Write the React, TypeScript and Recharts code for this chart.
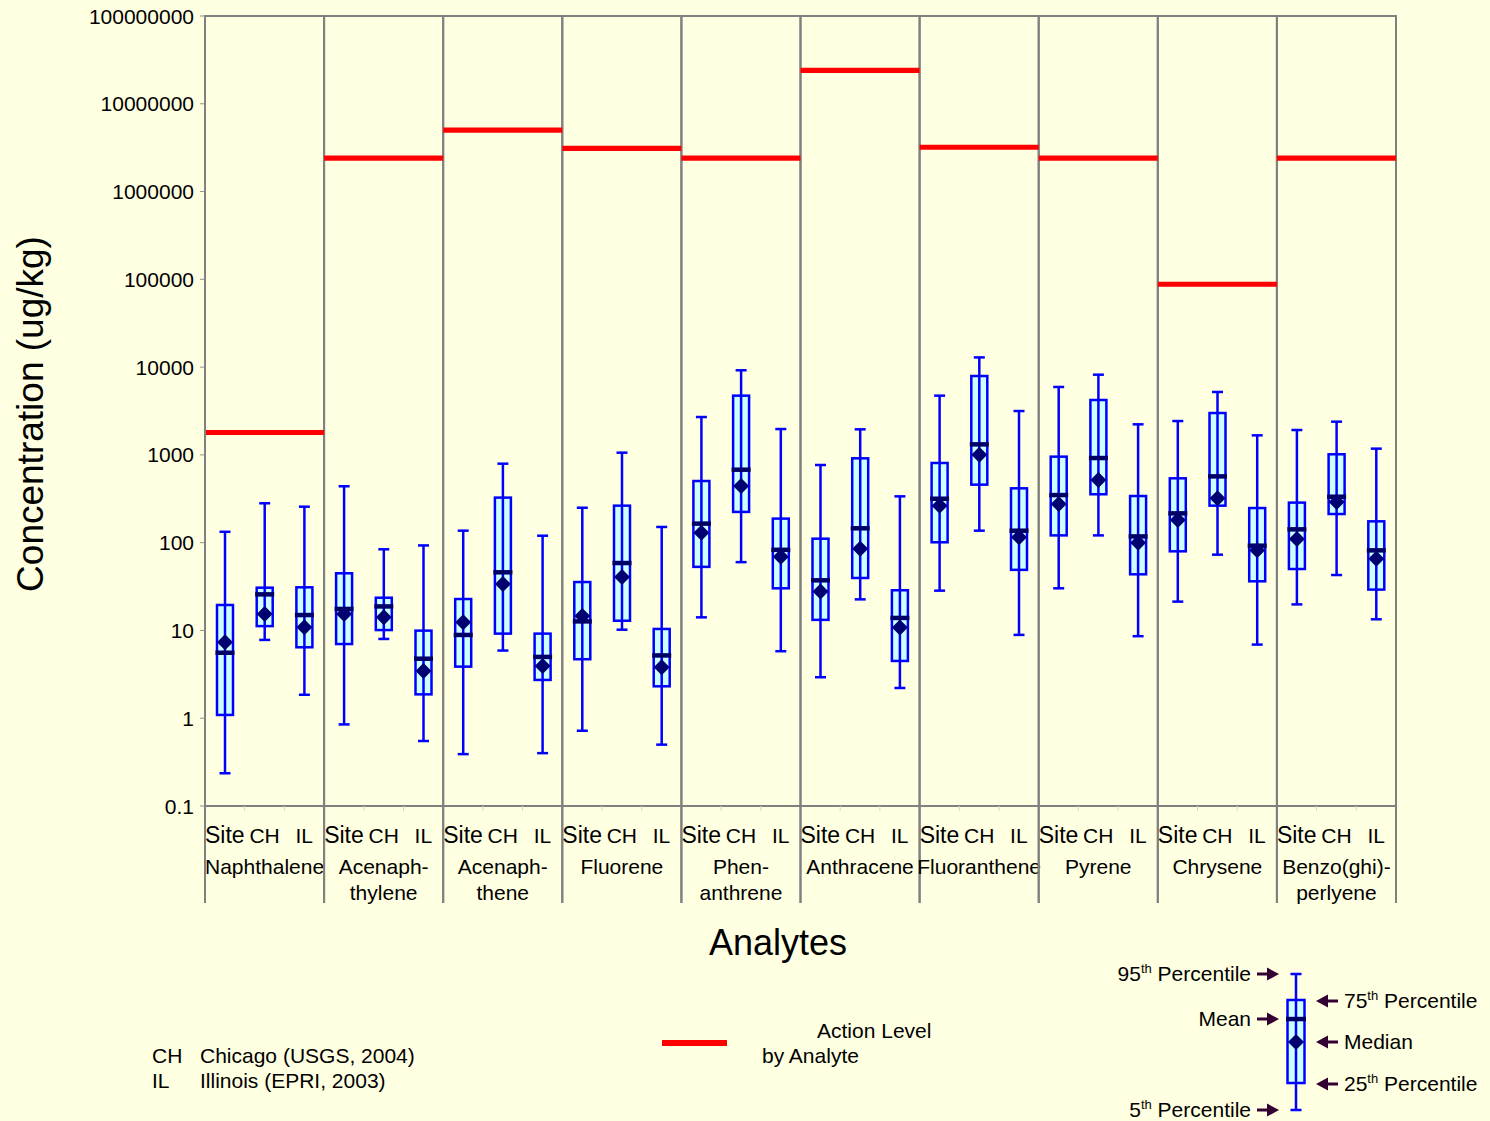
import React from "react";
import { ComposedChart, Bar, XAxis, YAxis, ReferenceArea } from "recharts";

const FONT = "Arial, 'Liberation Sans', Helvetica, sans-serif";

const analytes = [
  "Naphthalene",
  "Acenaphthylene",
  "Acenaphthene",
  "Fluorene",
  "Phenanthrene",
  "Anthracene",
  "Fluoranthene",
  "Pyrene",
  "Chrysene",
  "Benzo(ghi)perylene",
];
const analyteLabels = [
  ["Naphthalene"],
  ["Acenaph-", "thylene"],
  ["Acenaph-", "thene"],
  ["Fluorene"],
  ["Phen-", "anthrene"],
  ["Anthracene"],
  ["Fluoranthene"],
  ["Pyrene"],
  ["Chrysene"],
  ["Benzo(ghi)-", "perlyene"],
];
const sources = ["Site", "CH", "IL"];

// action level per analyte (ug/kg)
const actionLevels = [1800, 2400000, 5000000, 3100000, 2400000, 24000000, 3200000, 2400000, 88000, 2400000];

// each row: Site, CH, IL
const p95 = [
  133, 281, 257,
  439, 84, 93,
  137, 794, 120,
  250, 1060, 151,
  2700, 9200, 1970,
  767, 1955, 337,
  4730, 12900, 3160,
  5940, 8200, 2230,
  2430, 5210, 1670,
  1920, 2390, 1178,
];
const q3 = [
  19.5, 30.7, 31,
  44.8, 23.6, 9.95,
  22.8, 326, 9.2,
  35.6, 264, 10.4,
  504, 4730, 188,
  111, 914, 28.7,
  809, 7920, 416,
  955, 4220, 340,
  541, 3000, 248,
  286, 1016, 175,
];
const mean = [
  5.58, 25.8, 15,
  17.6, 18.8, 4.77,
  8.9, 46, 5.0,
  12.7, 58.7, 5.2,
  165, 679, 83,
  37.3, 146, 13.9,
  317, 1320, 137,
  349, 922, 118,
  216, 570, 92.5,
  142, 334, 81.8,
];
const median = [
  7.33, 15.4, 10.9,
  15.4, 14.1, 3.45,
  12.4, 33.8, 3.94,
  14.6, 40.6, 3.8,
  130, 442, 69,
  27.7, 85, 10.8,
  264, 1006, 115,
  276, 518, 100,
  181, 320, 81.8,
  110, 291, 65.7,
];
const q1 = [
  1.09, 11.2, 6.43,
  7.0, 10.1, 1.87,
  3.87, 9.2, 2.73,
  4.7, 12.9, 2.31,
  53, 224, 30.2,
  13.2, 39.6, 4.49,
  101, 458, 49,
  121, 356, 43.6,
  79.7, 264, 36.3,
  50.1, 212, 29.2,
];
const p5 = [
  0.236, 7.8, 1.85,
  0.85, 8.0, 0.55,
  0.39, 5.9, 0.4,
  0.72, 10.2, 0.5,
  14.1, 60, 5.8,
  2.93, 22.6, 2.21,
  28.4, 137, 8.9,
  30.2, 121, 8.6,
  21.3, 73, 6.9,
  19.8, 42.8, 13.4,
];

const yTicks = [0.1, 1, 10, 100, 1000, 10000, 100000, 1000000, 10000000, 100000000];

const rows = analytes.flatMap((a, gi) =>
  sources.map((s, si) => {
    const i = gi * 3 + si;
    return {
      key: `${a}|${s}`,
      p5: p5[i],
      q1: q1[i],
      median: median[i],
      mean: mean[i],
      q3: q3[i],
      p95: p95[i],
    };
  })
);

interface GlyphProps {
  cx: number;
  w: number;
  top: number;
  upper: number;
  meanY: number;
  medianY: number;
  lower: number;
  bottom: number;
}

function BoxGlyph({ cx, w, top, upper, meanY, medianY, lower, bottom }: GlyphProps) {
  const cap = 5.5;
  return (
    <g>
      <rect x={cx - w / 2} y={upper} width={w} height={lower - upper} fill="#CCFFFF" />
      <line x1={cx} x2={cx} y1={top} y2={bottom} stroke="#0000FF" strokeWidth={2.5} />
      <line x1={cx - cap} x2={cx + cap} y1={top} y2={top} stroke="#0000FF" strokeWidth={2.5} />
      <line x1={cx - cap} x2={cx + cap} y1={bottom} y2={bottom} stroke="#0000FF" strokeWidth={2.5} />
      <rect
        x={cx - w / 2}
        y={upper}
        width={w}
        height={lower - upper}
        fill="none"
        stroke="#0000FF"
        strokeWidth={2.5}
      />
      <rect x={cx - w / 2 - 1.5} y={meanY - 2.2} width={w + 3} height={4.5} fill="#000066" />
      <polygon
        points={`${cx},${medianY - 8} ${cx + 8},${medianY} ${cx},${medianY + 8} ${cx - 8},${medianY}`}
        fill="#000070"
      />
    </g>
  );
}

// the bar gives the q1..q3 rect; other stats placed on the same log scale
function BoxShape(props: any) {
  const { x, y, width, height, payload } = props;
  if (!payload || !height) return null;
  const top = Math.min(y, y + height);
  const h = Math.abs(height);
  const lg = Math.log10;
  const k = h / (lg(payload.q3) - lg(payload.q1));
  const toY = (v: number) => top + (lg(payload.q3) - lg(v)) * k;
  return (
    <BoxGlyph
      cx={x + width / 2}
      w={width}
      top={toY(payload.p95)}
      upper={top}
      meanY={toY(payload.mean)}
      medianY={toY(payload.median)}
      lower={top + h}
      bottom={toY(payload.p5)}
    />
  );
}

function YTick(props: any) {
  const { x, y, payload } = props;
  return (
    <text
      x={x - 4}
      y={y}
      textAnchor="end"
      dominantBaseline="central"
      fontSize={21}
      fontFamily={FONT}
      fill="#000"
    >
      {String(payload.value)}
    </text>
  );
}

function XTick(props: any) {
  const { x, y, payload } = props;
  const [analyte, source] = String(payload.value).split("|");
  const gi = analytes.indexOf(analyte);
  const si = sources.indexOf(source);
  const half = payload.offset ?? 0;
  return (
    <g fontFamily={FONT} fill="#000">
      {si === 0 && (
        <line x1={x - half} x2={x - half} y1={y} y2={y + 97} stroke="#808080" strokeWidth={2} />
      )}
      {si === 2 && (
        <line x1={x + half} x2={x + half} y1={y} y2={y + 97} stroke="#808080" strokeWidth={2} />
      )}
      {si !== 0 && (
        <line x1={x - half} x2={x - half} y1={y} y2={y + 5} stroke="#D8D8C8" strokeWidth={1} />
      )}
      <text x={x} y={y + 37} textAnchor="middle" fontSize={si === 0 ? 23 : 21}>
        {source}
      </text>
      {si === 1 &&
        analyteLabels[gi].map((line, k) => (
          <text key={k} x={x} y={y + 68 + k * 26} textAnchor="middle" fontSize={21}>
            {line}
          </text>
        ))}
    </g>
  );
}

function Arrow({ from, to, y }: { from: number; to: number; y: number }) {
  const d = Math.sign(to - from);
  return (
    <g>
      <line x1={from} x2={to - d * 10} y1={y} y2={y} stroke="#330033" strokeWidth={3} />
      <polygon points={`${to},${y} ${to - d * 12},${y - 6.5} ${to - d * 12},${y + 6.5}`} fill="#330033" />
    </g>
  );
}

function Pct({ n, x, y, anchor }: { n: string; x: number; y: number; anchor: "start" | "end" }) {
  return (
    <text x={x} y={y} textAnchor={anchor} fontSize={21}>
      {n}
      <tspan fontSize={13} dy={-8}>
        th
      </tspan>
      <tspan dy={8}> Percentile</tspan>
    </text>
  );
}

function Overlay() {
  return (
    <svg
      width={1490}
      height={1121}
      style={{ position: "absolute", left: 0, top: 0, pointerEvents: "none" }}
      fontFamily={FONT}
      fill="#000"
    >
      <text transform="translate(43,414) rotate(-90)" textAnchor="middle" fontSize={37}>
        Concentration (ug/kg)
      </text>
      <text x={778} y={955} textAnchor="middle" fontSize={36}>
        Analytes
      </text>

      <text x={152} y={1063} fontSize={21}>CH</text>
      <text x={200} y={1063} fontSize={21}>Chicago (USGS, 2004)</text>
      <text x={152} y={1088} fontSize={21}>IL</text>
      <text x={200} y={1088} fontSize={21}>Illinois (EPRI, 2003)</text>

      <rect x={662} y={1040} width={65} height={6} fill="#FF0000" />
      <text x={817} y={1038} fontSize={21}>Action Level</text>
      <text x={762} y={1063} fontSize={21}>by Analyte</text>

      <BoxGlyph cx={1296} w={17} top={974} upper={1000} meanY={1019} medianY={1042} lower={1083} bottom={1110} />
      <Pct n="95" x={1251} y={981} anchor="end" />
      <text x={1251} y={1026} textAnchor="end" fontSize={21}>Mean</text>
      <Pct n="5" x={1251} y={1117} anchor="end" />
      <Arrow from={1257} to={1279} y={974} />
      <Arrow from={1257} to={1279} y={1019} />
      <Arrow from={1257} to={1279} y={1110} />
      <Pct n="75" x={1344} y={1008} anchor="start" />
      <text x={1344} y={1049} fontSize={21}>Median</text>
      <Pct n="25" x={1344} y={1091} anchor="start" />
      <Arrow from={1338} to={1316} y={1001} />
      <Arrow from={1338} to={1316} y={1042} />
      <Arrow from={1338} to={1316} y={1084} />
    </svg>
  );
}

export default function App() {
  return (
    <div
      style={{
        position: "absolute",
        left: 0,
        top: 0,
        width: 1490,
        height: 1121,
        background: "#FFFFE1",
        overflow: "hidden",
      }}
    >
      <ComposedChart
        width={1490}
        height={1121}
        data={rows}
        margin={{ top: 16, right: 94, bottom: 0, left: 0 }}
      >
        <XAxis
          dataKey="key"
          type="category"
          interval={0}
          height={315}
          tickSize={0}
          tickMargin={0}
          tickLine={false}
          axisLine={{ stroke: "#808080", strokeWidth: 2 }}
          tick={(p: any) => <XTick {...p} />}
        />
        <YAxis
          type="number"
          scale="log"
          domain={[0.1, 100000000]}
          ticks={yTicks}
          interval={0}
          allowDataOverflow
          width={205}
          tickSize={5}
          axisLine={{ stroke: "#808080", strokeWidth: 2 }}
          tickLine={{ stroke: "#909090" }}
          tick={(p: any) => <YTick {...p} />}
        />
        {analytes.map((a) => (
          <ReferenceArea
            key={`frame-${a}`}
            x1={`${a}|Site`}
            x2={`${a}|IL`}
            ifOverflow="visible"
            fill="none"
            fillOpacity={0}
            stroke="#808080"
            strokeWidth={2}
          />
        ))}
        {analytes.map((a, gi) => (
          <ReferenceArea
            key={`level-${a}`}
            x1={`${a}|Site`}
            x2={`${a}|IL`}
            y1={actionLevels[gi] / 1.07}
            y2={actionLevels[gi] * 1.07}
            ifOverflow="visible"
            fill="#FF0000"
            fillOpacity={1}
            stroke="none"
          />
        ))}
        <Bar
          dataKey={(d: any) => [d.q1, d.q3]}
          barSize={16}
          shape={(p: any) => <BoxShape {...p} />}
          isAnimationActive={false}
        />
      </ComposedChart>
      <Overlay />
    </div>
  );
}
